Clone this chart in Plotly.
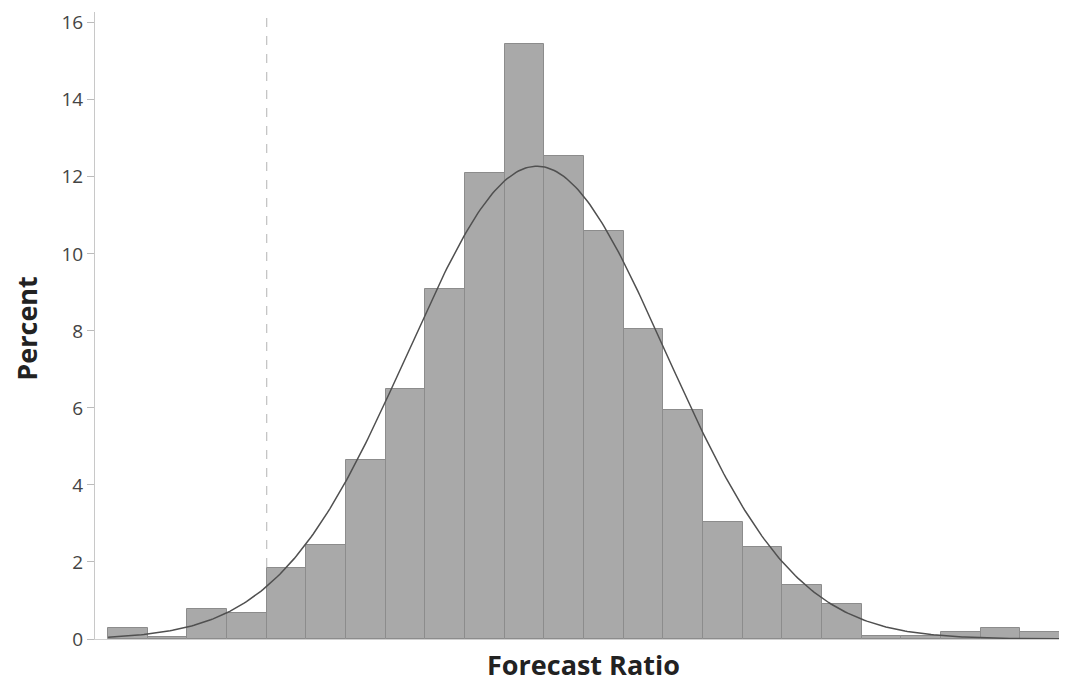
import numpy as np
import plotly.graph_objects as go

# Histogram data (Forecast Ratio bins, width 0.1)
bin_lefts = [round(0.1 * i, 1) for i in range(24)]
bin_width = 0.1
percent = [0.28, 0.05, 0.78, 0.67, 1.84, 2.45, 4.65, 6.5, 9.1, 12.1, 15.45, 12.55,
           10.6, 8.05, 5.95, 3.05, 2.4, 1.4, 0.9, 0.08, 0.08, 0.18, 0.28, 0.18]

# Fitted normal curve parameters
fit_mean = 1.081
fit_sd = 0.325
ref_line_x = 0.4
y_ticks = [0, 2, 4, 6, 8, 10, 12, 14, 16]

centers = [b + bin_width / 2 for b in bin_lefts]
xc = np.linspace(bin_lefts[0], bin_lefts[-1] + bin_width, 400)
yc = 100 * bin_width / (fit_sd * np.sqrt(2 * np.pi)) * np.exp(-0.5 * ((xc - fit_mean) / fit_sd) ** 2)

fig = go.Figure()
fig.add_trace(go.Bar(
    x=centers, y=percent, width=bin_width,
    marker=dict(color="#a9a9a9", line=dict(color="#8c8c8c", width=1)),
    showlegend=False, hoverinfo="skip"))
fig.add_trace(go.Scatter(
    x=xc, y=yc, mode="lines", line=dict(color="#505050", width=1.5),
    showlegend=False, hoverinfo="skip"))

fig.add_shape(type="line", x0=ref_line_x, x1=ref_line_x, y0=0, y1=1, yref="paper",
              line=dict(color="#b4b4b4", width=1, dash="dash"), layer="below")

fig.add_annotation(text="<b>Forecast Ratio</b>", xref="paper", yref="paper",
                   x=0.5, y=0, xanchor="center", yanchor="middle", xshift=5, yshift=-25,
                   showarrow=False, font=dict(size=27, color="#222222"))
fig.add_annotation(text="<b>Percent</b>", xref="paper", yref="paper",
                   x=0, y=0.495, xanchor="center", yanchor="middle", xshift=-68,
                   textangle=-90, showarrow=False,
                   font=dict(size=27, color="#222222"))

# page body has an 8px margin: figure is sized/offset so the plot area lands
# at x 95..1062, y 12..639 in the 1067x683 window
fig.update_layout(
    width=1059, height=675,
    margin=dict(l=87, r=5, t=4, b=44),
    paper_bgcolor="white", plot_bgcolor="white",
    bargap=0,
    font=dict(family="Open Sans, sans-serif", color="#333333"),
    xaxis=dict(
        range=[-0.033, 2.405], showticklabels=False, ticks="", showgrid=False,
        zeroline=False, showline=True, linecolor="#d0d0d0", linewidth=1,
        automargin=False,
    ),
    yaxis=dict(
        range=[0, 16.28], tickvals=y_ticks, ticks="outside", ticklen=7, tickcolor="#bbbbbb",
        tickfont=dict(size=19, color="#444444"), showgrid=False, zeroline=False,
        showline=True, linecolor="#c8c8c8", linewidth=1, automargin=False,
    ),
)

fig.write_html("out.html")
